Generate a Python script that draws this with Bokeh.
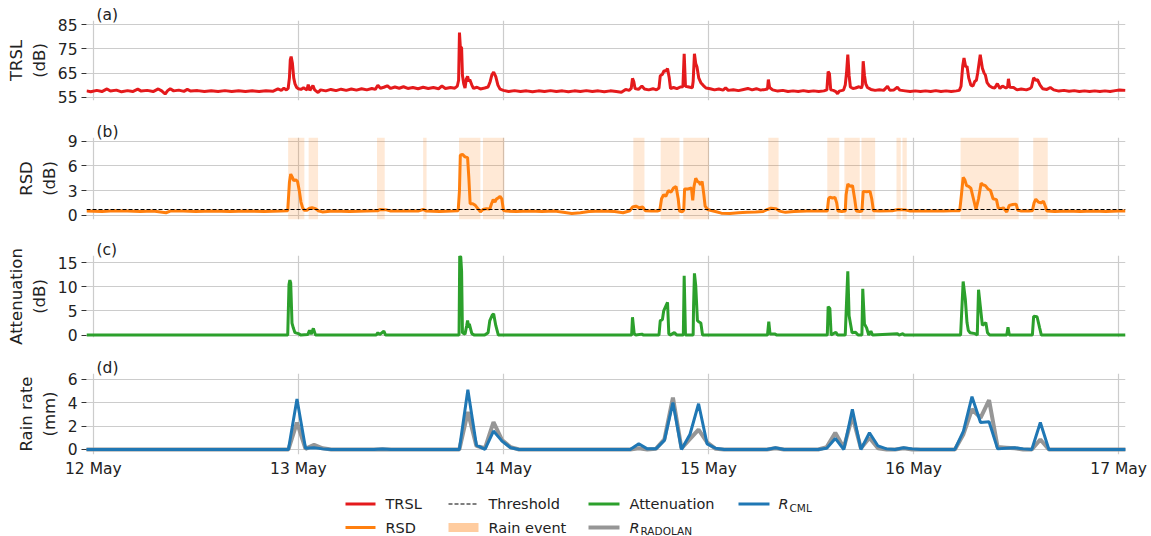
import numpy as np
import pandas as pd
from bokeh.plotting import figure
from bokeh.layouts import column
from bokeh.models import Range1d, FixedTicker, DatetimeTickFormatter, BoxAnnotation, Span
from bokeh.core.properties import value
from bokeh.embed import file_html
from bokeh.resources import INLINE

FONT = "DejaVu Sans"
TEXT = "#222222"

# ---------------------------------------------------------------- data
# All times are hours after 12 May 2018 00:00.
start_day = pd.Timestamp("2018-05-12 00:00")
day_ticks = ["2018-05-12", "2018-05-13", "2018-05-14", "2018-05-15", "2018-05-16", "2018-05-17"]

# Total received signal level (dB): (hour, value)
trsl = [
    (-0.8, 57.6), (-0.3, 57.2), (0.4, 57.8), (1.0, 57.3), (1.6, 58.4), (2.0, 57.5), (2.7, 57.9),
    (3.3, 57.2), (4.0, 57.7), (4.6, 57.3), (5.2, 58.3), (5.6, 57.5), (6.3, 57.8), (7.0, 57.3),
    (7.6, 58.4), (8.0, 57.6), (8.4, 56.3), (8.7, 57.7), (9.0, 58.5), (9.4, 57.6), (10.0, 57.9),
    (10.6, 57.4), (11.0, 58.2), (11.4, 57.5), (12.2, 57.7), (13.0, 57.3), (13.8, 57.6), (14.6, 57.3),
    (15.4, 57.7), (16.2, 57.3), (17.0, 57.6), (17.8, 57.3), (18.6, 57.6), (19.4, 57.3), (20.2, 57.6),
    (21.0, 57.4), (21.6, 58.4), (22.0, 57.8), (22.3, 58.7), (22.6, 58.0), (22.8, 58.6), (22.95, 63.0),
    (23.05, 70.5), (23.15, 71.8), (23.3, 69.0), (23.45, 63.0), (23.6, 60.5), (23.8, 59.0), (24.0, 58.5),
    (24.3, 58.2), (24.6, 58.9), (25.0, 58.0), (25.15, 60.2), (25.35, 57.8), (25.7, 59.8), (25.9, 58.0),
    (26.3, 56.9), (26.6, 58.0), (27.2, 57.6), (27.8, 58.2), (28.4, 57.7), (29.0, 58.3), (29.6, 57.8),
    (30.2, 58.4), (30.8, 57.9), (31.4, 58.5), (32.0, 58.0), (32.6, 58.6), (33.0, 58.2), (33.3, 59.9),
    (33.6, 58.7), (34.0, 59.1), (34.4, 59.7), (34.8, 58.6), (35.3, 59.2), (35.8, 58.7), (36.3, 59.3),
    (36.8, 58.6), (37.4, 59.0), (38.0, 58.5), (38.6, 59.1), (39.2, 58.6), (39.8, 59.0), (40.4, 58.5),
    (40.8, 59.6), (41.2, 58.6), (41.8, 59.0), (42.3, 58.7), (42.6, 59.6), (42.75, 62.0), (42.85, 81.8),
    (42.95, 76.0), (43.1, 75.5), (43.2, 64.0), (43.35, 60.5), (43.5, 58.8), (43.65, 62.5), (43.8, 63.6),
    (43.95, 61.5), (44.05, 62.3), (44.3, 60.0), (44.5, 58.6), (44.9, 59.1), (45.3, 58.4), (45.8, 58.8),
    (46.2, 59.2), (46.45, 61.5), (46.65, 64.3), (46.85, 65.4), (47.1, 63.5), (47.35, 60.0), (47.6, 58.3),
    (48.0, 57.8), (48.6, 57.3), (49.3, 57.7), (50.0, 57.3), (50.7, 57.6), (51.4, 57.2), (52.1, 57.6),
    (52.8, 57.3), (53.5, 57.7), (54.2, 57.3), (54.9, 57.6), (55.6, 57.2), (56.3, 57.6), (57.0, 57.3),
    (57.7, 57.7), (58.4, 57.3), (59.1, 57.6), (59.8, 57.2), (60.5, 57.6), (61.2, 57.3), (61.8, 57.0),
    (62.3, 58.2), (62.7, 57.8), (62.95, 58.6), (63.1, 62.8), (63.25, 61.5), (63.4, 58.6), (63.8, 58.2),
    (64.2, 59.6), (64.5, 58.4), (65.0, 58.0), (65.5, 58.5), (65.9, 58.0), (66.2, 58.8), (66.35, 63.8),
    (66.6, 64.5), (66.8, 66.0), (67.0, 65.8), (67.2, 66.9), (67.4, 63.0), (67.55, 58.6), (67.9, 59.0),
    (68.3, 58.5), (68.7, 59.2), (69.0, 59.3), (69.15, 73.0), (69.3, 59.5), (69.7, 59.2), (70.1, 58.9),
    (70.2, 61.5), (70.35, 73.0), (70.5, 69.0), (70.65, 67.5), (70.85, 63.0), (71.1, 61.0), (71.4, 59.8),
    (71.7, 58.8), (72.2, 58.5), (72.7, 58.0), (73.2, 58.4), (73.7, 57.9), (74.0, 58.9), (74.3, 57.8),
    (74.9, 58.1), (75.5, 57.7), (76.1, 58.2), (76.6, 58.6), (77.1, 58.0), (77.6, 58.5), (78.1, 57.9),
    (78.6, 58.2), (78.9, 58.4), (79.0, 62.3), (79.15, 59.0), (79.5, 58.0), (80.1, 57.5), (80.7, 57.8),
    (81.3, 57.3), (81.9, 57.6), (82.5, 57.3), (83.1, 57.7), (83.7, 57.3), (84.3, 57.6), (84.9, 57.3),
    (85.5, 57.6), (85.85, 58.0), (86.0, 65.6), (86.15, 64.8), (86.3, 58.0), (86.6, 57.8), (86.9, 57.3),
    (87.1, 56.4), (87.3, 57.5), (87.8, 57.9), (88.0, 60.0), (88.15, 65.0), (88.3, 72.6), (88.45, 64.0),
    (88.6, 59.2), (88.9, 58.6), (89.2, 58.8), (89.6, 59.3), (89.9, 58.8), (90.0, 60.0), (90.1, 69.9),
    (90.25, 64.0), (90.4, 60.5), (90.6, 59.0), (91.0, 58.2), (91.5, 57.8), (92.0, 58.1), (92.5, 57.8),
    (92.95, 59.5), (93.2, 57.9), (93.7, 58.0), (94.1, 59.1), (94.4, 57.9), (95.0, 57.6), (95.6, 57.3),
    (96.2, 57.6), (96.8, 57.3), (97.4, 57.6), (98.0, 57.3), (98.6, 57.7), (99.2, 57.3), (99.8, 57.6),
    (100.4, 57.3), (101.0, 57.6), (101.35, 57.8), (101.55, 59.5), (101.75, 68.0), (101.9, 71.2),
    (102.1, 67.5), (102.25, 67.8), (102.45, 63.0), (102.7, 60.0), (102.95, 59.6), (103.15, 61.5),
    (103.35, 62.0), (103.5, 65.0), (103.8, 72.6), (104.05, 67.0), (104.25, 65.0), (104.4, 64.2),
    (104.6, 61.0), (104.9, 59.6), (105.2, 59.0), (105.5, 58.8), (105.8, 60.6), (106.1, 58.6),
    (106.4, 59.6), (106.8, 58.8), (107.0, 59.2), (107.1, 62.6), (107.25, 59.1), (107.7, 59.0),
    (108.1, 58.0), (108.6, 58.4), (109.2, 58.0), (109.6, 58.5), (109.8, 59.2), (110.05, 63.0),
    (110.3, 62.0), (110.5, 62.2), (110.8, 60.0), (111.1, 58.5), (111.6, 58.2), (112.0, 59.0),
    (112.4, 58.0), (113.0, 57.5), (113.6, 57.8), (114.2, 57.4), (114.8, 57.7), (115.4, 57.3),
    (116.0, 57.6), (116.6, 57.3), (117.2, 57.6), (117.8, 57.3), (118.4, 57.6), (119.0, 57.3),
    (119.6, 57.7), (120.1, 58.0), (120.8, 57.8),
]

# Rolling standard deviation of TRSL (dB): (hour, value)
rsd = [
    (-0.8, 0.5), (1.0, 0.45), (2.5, 0.55), (4.0, 0.5), (5.5, 0.45), (7.0, 0.5), (8.5, 0.3), (9.0, 0.5),
    (10.5, 0.5), (12.0, 0.45), (14.0, 0.5), (16.0, 0.45), (18.0, 0.5), (20.0, 0.45), (22.0, 0.5),
    (22.75, 0.55), (22.95, 4.0), (23.1, 5.0), (23.3, 4.6), (23.45, 4.2), (23.7, 4.3), (23.9, 4.1),
    (24.1, 3.0), (24.3, 1.6), (24.5, 0.9), (24.7, 0.6), (25.0, 0.6), (25.3, 0.85), (25.6, 0.9),
    (26.0, 0.8), (26.3, 0.55), (26.8, 0.4), (28.0, 0.5), (30.0, 0.45), (32.0, 0.5), (33.3, 0.55),
    (33.6, 0.7), (34.3, 0.65), (34.8, 0.5), (36.0, 0.5), (38.0, 0.5), (38.6, 0.7), (39.0, 0.5),
    (40.5, 0.45), (42.0, 0.5), (42.7, 0.55), (42.85, 3.0), (42.95, 7.3), (43.2, 7.4), (43.5, 7.1),
    (43.8, 7.0), (43.95, 4.5), (44.1, 1.4), (44.4, 1.4), (44.7, 1.2), (45.0, 0.8), (45.3, 0.4),
    (45.6, 0.7), (46.0, 0.8), (46.4, 0.75), (46.6, 1.4), (46.8, 1.9), (47.0, 1.6), (47.2, 2.0),
    (47.4, 2.1), (47.6, 2.3), (47.8, 2.0), (48.0, 0.6), (48.3, 0.5), (49.5, 0.45), (51.0, 0.5),
    (52.5, 0.45), (54.0, 0.5), (55.0, 0.35), (56.0, 0.2), (57.0, 0.3), (58.0, 0.45), (59.5, 0.5),
    (61.0, 0.45), (62.0, 0.3), (62.8, 0.55), (63.1, 1.0), (63.5, 1.1), (63.9, 0.9), (64.3, 1.0),
    (64.6, 0.55), (65.3, 0.5), (66.0, 0.5), (66.3, 0.6), (66.5, 2.0), (66.75, 2.5), (67.0, 2.3),
    (67.3, 3.0), (67.6, 2.8), (67.9, 3.3), (68.2, 3.5), (68.45, 2.0), (68.6, 0.5), (68.9, 0.4),
    (69.1, 0.6), (69.2, 3.2), (69.6, 3.2), (70.0, 3.3), (70.15, 1.8), (70.3, 3.5), (70.5, 4.5),
    (70.7, 4.1), (70.9, 4.0), (71.05, 3.7), (71.25, 4.1), (71.45, 2.5), (71.6, 1.1), (71.9, 0.7),
    (72.2, 0.6), (72.8, 0.45), (73.5, 0.25), (74.5, 0.2), (75.5, 0.3), (76.5, 0.35), (77.5, 0.4),
    (78.4, 0.45), (78.9, 0.7), (79.3, 0.85), (79.9, 0.8), (80.3, 0.5), (81.0, 0.35), (82.0, 0.45),
    (83.5, 0.5), (85.0, 0.5), (85.9, 0.5), (86.05, 2.0), (86.2, 2.2), (86.5, 2.1), (86.8, 2.15),
    (87.0, 1.5), (87.15, 0.5), (87.6, 0.45), (88.0, 0.5), (88.1, 2.5), (88.3, 3.8), (88.6, 3.5),
    (88.85, 3.6), (89.1, 2.0), (89.3, 0.5), (89.7, 0.45), (89.95, 0.5), (90.1, 2.9), (90.5, 2.85),
    (90.9, 2.9), (91.1, 2.0), (91.3, 0.55), (92.0, 0.5), (93.5, 0.55), (94.2, 0.7), (95.0, 0.65),
    (95.6, 0.5), (96.5, 0.55), (98.0, 0.5), (99.5, 0.5), (100.5, 0.55), (101.4, 0.55), (101.6, 2.5),
    (101.8, 4.6), (102.0, 4.3), (102.2, 3.6), (102.45, 3.5), (102.7, 3.3), (103.0, 2.0), (103.3, 0.7),
    (103.6, 2.0), (103.9, 3.9), (104.1, 3.7), (104.4, 3.6), (104.7, 3.2), (105.0, 3.0), (105.3, 2.0),
    (105.7, 1.9), (105.9, 0.9), (106.2, 0.8), (106.5, 0.9), (106.9, 0.4), (107.2, 1.2), (107.6, 1.3),
    (108.0, 1.35), (108.2, 0.6), (108.6, 0.5), (109.5, 0.5), (109.9, 0.55), (110.1, 1.5), (110.3, 1.95),
    (110.6, 1.6), (110.9, 1.5), (111.2, 1.7), (111.45, 1.0), (111.6, 0.5), (112.5, 0.45), (114.0, 0.5),
    (115.5, 0.45), (117.0, 0.5), (118.5, 0.45), (120.0, 0.5), (120.8, 0.5),
]

rsd_threshold = 0.7

# Detected rain events: (start hour, end hour)
rain_events = [
    (22.8, 24.7), (25.2, 26.3), (33.2, 34.1), (38.6, 39.0), (42.8, 45.3), (45.6, 48.1),
    (63.2, 64.5), (66.4, 68.6), (69.05, 72.05), (79.0, 80.2), (85.9, 87.3), (87.9, 89.7),
    (89.9, 91.5), (94.0, 94.5), (94.7, 95.2), (101.5, 108.3), (110.0, 111.7),
]

# Rain-induced attenuation (dB): (hour, value)
attenuation = [
    (-0.8, 0.0), (22.75, 0.0), (22.9, 10.5), (23.0, 11.4), (23.1, 10.8), (23.25, 2.5), (23.4, 1.5),
    (23.6, 0.5), (24.0, 0.3), (24.3, 0.0), (25.1, 0.1), (25.3, 1.0), (25.5, 0.2), (25.75, 1.4),
    (26.0, 0.0), (33.1, 0.0), (33.3, 0.5), (33.5, 0.1), (34.0, 0.8), (34.2, 0.0), (42.8, 0.0),
    (42.88, 16.4), (43.0, 16.2), (43.1, 13.2), (43.2, 0.5), (43.5, 0.2), (43.7, 2.0), (43.8, 3.0),
    (43.95, 1.5), (44.0, 2.3), (44.3, 0.3), (44.6, 0.0), (45.8, 0.0), (46.2, 0.5), (46.4, 3.0),
    (46.7, 4.2), (46.85, 4.4), (47.1, 2.0), (47.4, 0.0), (63.0, 0.0), (63.1, 3.7), (63.3, 0.3),
    (63.5, 0.0), (64.2, 0.2), (64.4, 0.0), (66.2, 0.0), (66.35, 3.0), (66.6, 3.2), (66.75, 5.0),
    (67.0, 6.0), (67.2, 6.8), (67.35, 0.3), (67.5, 0.0), (68.0, 0.5), (68.3, 0.0), (69.05, 0.0),
    (69.15, 12.3), (69.3, 0.0), (70.2, 0.0), (70.25, 6.1), (70.35, 12.8), (70.5, 10.3), (70.7, 3.0),
    (70.9, 2.7), (71.1, 2.5), (71.3, 0.0), (78.9, 0.0), (79.05, 2.8), (79.2, 0.2), (79.8, 0.2),
    (80.0, 0.0), (85.9, 0.0), (86.0, 5.9), (86.2, 5.5), (86.35, 0.0), (86.9, 0.6), (87.1, 0.0),
    (88.0, 0.0), (88.15, 6.8), (88.3, 13.2), (88.45, 4.0), (88.8, 0.5), (89.2, 0.6), (89.5, 0.0),
    (89.95, 0.0), (90.05, 9.6), (90.25, 2.3), (90.5, 1.5), (90.75, 0.0), (91.0, 0.8), (91.2, 0.0),
    (94.1, 0.3), (94.3, 0.0), (94.75, 0.3), (94.9, 0.0), (101.5, 0.0), (101.8, 11.1), (102.05, 7.5),
    (102.25, 2.6), (102.4, 1.0), (102.6, 0.5), (103.2, 0.3), (103.45, 0.0), (103.6, 9.4), (103.8, 6.1),
    (104.05, 2.0), (104.45, 2.6), (104.65, 0.5), (104.9, 0.0), (106.9, 0.0), (107.05, 1.6),
    (107.2, 0.0), (109.9, 0.0), (110.05, 3.9), (110.45, 3.8), (110.75, 1.5), (110.95, 0.0),
    (120.8, 0.0),
]

# Hourly rain rates (mm), first value at 11 May 22:50, one value per hour
rain_first = pd.Timestamp("2018-05-11 22:50")
r_cml = (
    [0.0]
    + [0.0] * 24                                                     # 12 May
    + [4.3, 0.1, 0.15, 0.05, 0, 0, 0, 0, 0, 0, 0.03, 0,
       0, 0, 0, 0, 0, 0, 0, 0, 5.1, 0.37, 0.0, 1.57]                 # 13 May
    + [0.71, 0.15, 0, 0, 0, 0, 0, 0, 0, 0, 0, 0,
       0, 0, 0, 0, 0.48, 0.05, 0.05, 0.77, 4.0, 0.0, 1.3, 3.9]       # 14 May
    + [0.48, 0.1, 0, 0, 0, 0, 0, 0, 0.15, 0, 0, 0,
       0, 0, 0.1, 0.94, 0.0, 3.43, 0.0, 1.43, 0.3, 0.05, 0, 0.15]    # 15 May
    + [0.05, 0, 0, 0, 0, 0, 1.57, 4.5, 2.3, 2.37, 0.05, 0.1,
       0.15, 0.05, 0, 2.3, 0, 0, 0, 0, 0, 0, 0, 0]                   # 16 May
    + [0.0, 0.0]                                                     # 17 May
)
r_radolan = (
    [0.0]
    + [0.0] * 24
    + [2.3, 0.05, 0.4, 0.1, 0, 0, 0, 0, 0, 0, 0.02, 0,
       0, 0, 0, 0, 0, 0, 0, 0, 3.2, 0.3, 0.1, 2.34]
    + [0.8, 0.2, 0, 0, 0, 0, 0, 0, 0, 0, 0, 0,
       0, 0, 0, 0, 0.1, 0.0, 0.05, 0.86, 4.42, 0.1, 0.9, 1.7]
    + [0.6, 0.05, 0, 0, 0, 0, 0, 0, 0.1, 0, 0, 0,
       0, 0, 0.2, 1.43, 0.15, 2.86, 0.1, 1.0, 0.1, 0, 0, 0.1]
    + [0, 0, 0, 0, 0, 0, 1.3, 3.43, 2.7, 4.2, 0.2, 0.15,
       0.1, 0, 0, 0.85, 0, 0, 0, 0, 0, 0, 0, 0]
    + [0.0, 0.0]
)

# ---------------------------------------------------------------- helpers
def to_time(hours):
    return start_day + pd.to_timedelta(np.asarray(hours, dtype=float), unit="h")


def ms(ts):
    return pd.Timestamp(ts).timestamp() * 1000.0


rain_times = pd.date_range(rain_first, periods=len(r_cml), freq="h")

x_range = Range1d(start=start_day - pd.Timedelta(minutes=48),
                  end=pd.Timestamp(day_ticks[-1]) + pd.Timedelta(minutes=48))
day_ticker = FixedTicker(ticks=[ms(d) for d in day_ticks])

C_TRSL = "#e41a1c"
C_RSD = "#ff7f0e"
C_ATT = "#2ca02c"
C_CML = "#1f77b4"
C_RAD = "#969696"
GRID = "#cccccc"

LEFT, RIGHT = 86, 26   # frame margins shared by every panel


def panel(height, top, bottom, y0, y1, yticks, ylabel, letter, show_x=False):
    p = figure(width=1151, height=height, x_range=x_range, y_range=Range1d(y0, y1),
               x_axis_type="datetime", output_backend="svg", toolbar_location=None,
               min_border_left=LEFT, min_border_right=RIGHT,
               min_border_top=top, min_border_bottom=bottom, title=letter)
    p.outline_line_color = None
    p.background_fill_color = "white"
    p.border_fill_color = "white"

    # panel letter, top-left, straddling the top of the frame
    p.title.align = "left"
    p.title.offset = 10
    p.title.standoff = -7
    p.title.text_font = FONT
    p.title.text_font_size = "15.5px"
    p.title.text_font_style = "normal"
    p.title.text_color = TEXT

    p.xgrid.ticker = day_ticker
    p.xaxis.ticker = day_ticker
    p.xaxis.formatter = DatetimeTickFormatter(days="%d %b", months="%d %b", hours="%d %b",
                                              minutes="%d %b", years="%d %b")
    for g in (p.xgrid, p.ygrid):
        g.grid_line_color = GRID
        g.grid_line_width = 1.2

    p.yaxis.ticker = FixedTicker(ticks=yticks)
    p.ygrid.ticker = FixedTicker(ticks=yticks)
    p.yaxis.axis_line_color = None
    p.yaxis.major_tick_in = 0
    p.yaxis.major_tick_out = 5
    p.yaxis.major_tick_line_color = "#333333"
    p.yaxis.minor_tick_line_color = None
    p.yaxis.major_label_standoff = 4
    p.yaxis.major_label_text_font = FONT
    p.yaxis.major_label_text_font_size = "15.5px"
    p.yaxis.major_label_text_color = TEXT
    p.yaxis.axis_label = ylabel
    p.yaxis.axis_label_text_font = FONT
    p.yaxis.axis_label_text_font_size = "16.5px"
    p.yaxis.axis_label_text_font_style = "normal"
    p.yaxis.axis_label_text_color = TEXT
    p.yaxis.axis_label_standoff = 6

    if show_x:
        p.xaxis.axis_line_color = None
        p.xaxis.major_tick_in = 0
        p.xaxis.major_tick_out = 0
        p.xaxis.minor_tick_line_color = None
        p.xaxis.major_label_standoff = 5
        p.xaxis.major_label_text_font = FONT
        p.xaxis.major_label_text_font_size = "15.5px"
        p.xaxis.major_label_text_color = TEXT
    else:
        p.xaxis.visible = False
    return p


# (a) TRSL
pa = panel(117, 20, 17, 53.6, 86.8, [55, 65, 75, 85], "TRSL\n(dB)", "(a)")
h, v = zip(*trsl)
pa.line(to_time(h), v, line_color=C_TRSL, line_width=3)

# (b) RSD with rain events and threshold
pb = panel(118, 20, 16, -0.52, 9.45, [0, 3, 6, 9], "RSD\n(dB)", "(b)")
for s, e in rain_events:
    pb.add_layout(BoxAnnotation(left=ms(to_time([s])[0]), right=ms(to_time([e])[0]),
                                fill_color=C_RSD, fill_alpha=0.17, line_color=None,
                                level="underlay"))
h, v = zip(*rsd)
pb.line(to_time(h), v, line_color=C_RSD, line_width=3)
pb.add_layout(Span(location=rsd_threshold, dimension="width", line_color="black",
                   line_width=1.1, line_dash="4 2"))

# (c) attenuation
pc = panel(118, 20, 16, -0.5, 16.5, [0, 5, 10, 15], "Attenuation\n(dB)", "(c)")
h, v = zip(*attenuation)
pc.line(to_time(h), v, line_color=C_ATT, line_width=3)

# (d) rain rates
pd_ = panel(130, 20, 29, -0.43, 6.48, [0, 2, 4, 6], "Rain rate\n(mm)", "(d)", show_x=True)
pd_.line(rain_times, r_radolan, line_color=C_RAD, line_width=4)
pd_.line(rain_times, r_cml, line_color=C_CML, line_width=3)

# ---------------------------------------------------------------- legend
# The legend strip uses the same frame margins as the panels above, and its
# ranges are set so that one unit equals one pixel of the page.
leg = figure(width=1151, height=53, x_range=Range1d(LEFT, 1151 - RIGHT), y_range=Range1d(53, 0),
             output_backend="svg", toolbar_location=None,
             min_border_left=LEFT, min_border_right=RIGHT, min_border_top=0, min_border_bottom=0)
leg.axis.visible = False
leg.grid.visible = False
leg.outline_line_color = None

row1, row2 = 20.5, 44
entries = [
    (345, 375, row1, dict(line_color=C_TRSL, line_width=3), "TRSL"),
    (345, 375, row2, dict(line_color=C_RSD, line_width=3), "RSD"),
    (448, 478, row1, dict(line_color="black", line_width=1.1, line_dash="4 2"), "Threshold"),
    (448, 478, row2, dict(line_color=C_RSD, line_alpha=0.4, line_width=9), "Rain event"),
    (588, 619, row1, dict(line_color=C_ATT, line_width=3), "Attenuation"),
    (588, 619, row2, dict(line_color=C_RAD, line_width=4), None),
    (738, 769, row1, dict(line_color=C_CML, line_width=3), None),
]
for x0, x1, y, style, label in entries:
    leg.line([x0, x1], [y, y], **style)
    if label:
        leg.text(x=[x1 + 10], y=[y], text=[label], text_font=value(FONT),
                 text_font_size="14.5px", text_baseline="middle", text_color=TEXT)

for x0, y, sub in ((629, row2, "RADOLAN"), (778, row1, "CML")):
    leg.text(x=[x0], y=[y], text=["R"], text_font=value(FONT), text_font_style="italic",
             text_font_size="14.5px", text_baseline="middle", text_color=TEXT)
    leg.text(x=[x0 + 11], y=[y + 3.5], text=[sub], text_font=value(FONT),
             text_font_size="10.5px", text_baseline="middle", text_color=TEXT)

layout = column(pa, pb, pc, pd_, leg, spacing=0)
open("out.html", "w").write(file_html(layout, INLINE))
